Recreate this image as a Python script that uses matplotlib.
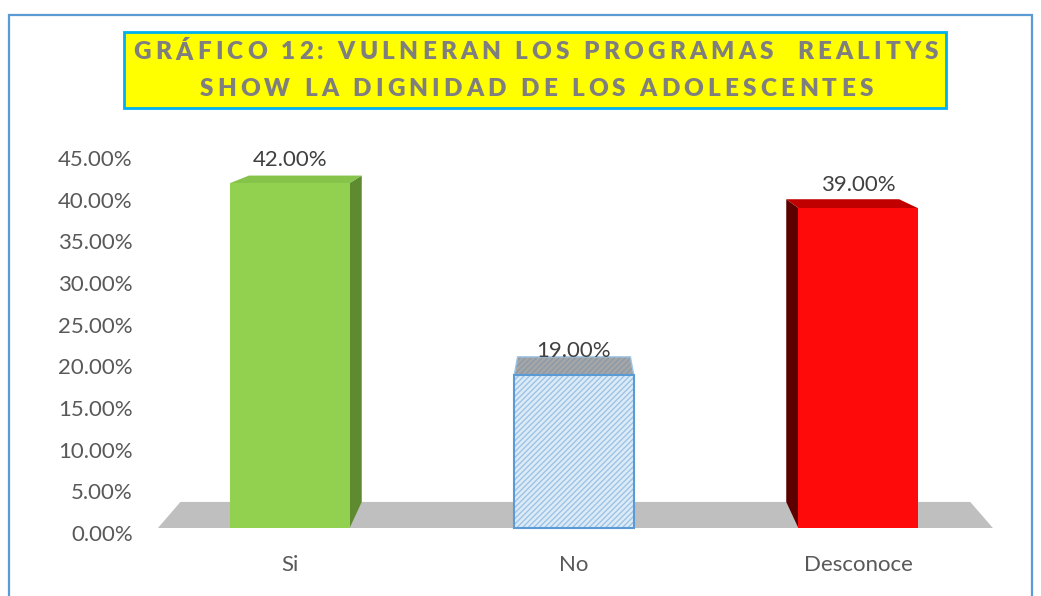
import matplotlib
matplotlib.use("Agg")
import matplotlib.pyplot as plt
from matplotlib.patches import Polygon, Rectangle
from matplotlib.font_manager import FontProperties

categories = ["Si", "No", "Desconoce"]
values = [42.0, 19.0, 39.0]
yticks = [0, 5, 10, 15, 20, 25, 30, 35, 40, 45]
title_lines = ["GRÁFICO 12: VULNERAN LOS PROGRAMAS  REALITYS",
               "SHOW LA DIGNIDAD DE LOS ADOLESCENTES"]

W, H = 1041, 596
plt.rcParams['font.family'] = ['Lato', 'DejaVu Sans']

fig = plt.figure(figsize=(W / 100, H / 100), dpi=100)

def fx(px):
    return px / W

def fy(py):
    return 1 - py / H

# outer chart border
fig.patches.append(Rectangle((fx(9), fy(640)), fx(1032) - fx(9), fy(15) - fy(640),
                             transform=fig.transFigure, fill=False,
                             edgecolor='#5B9BD5', lw=1.6))
# title box
fig.patches.append(Rectangle((fx(124), fy(108)), fx(946) - fx(124), fy(32) - fy(108),
                             transform=fig.transFigure, facecolor='#FFFF00',
                             edgecolor='#00B0F0', lw=2))

ax = fig.add_axes([fx(148), fy(533), fx(1000) - fx(148), fy(158) - fy(533)])
ax.set_xlim(0, 3)
ax.set_ylim(0, 45)
for s in ax.spines.values():
    s.set_visible(False)

# 3D-ish perspective: back points shrink toward a vanishing point
V = (1.5, 58.5)
k = 0.054
base = 0.6

def back(x, y):
    return (x + k * (V[0] - x), y + k * (V[1] - y))

# floor
fl = [(0.035, base), (2.975, base), back(2.975, base), back(0.035, base)]
ax.add_patch(Polygon(fl, closed=True, facecolor='#BFBFBF', edgecolor='none', zorder=1))

pos = [0.5, 1.5, 2.5]
width = 0.42
front_col = ['#92D050', '#DDEBF7', '#FF0A0A']
side_col = ['#5E8B2F', '#DDEBF7', '#5C0000']
top_col = ['#86C34A', '#A6A6A6', '#C00000']

for i, (p, v) in enumerate(zip(pos, values)):
    x0, x1 = p - width / 2, p + width / 2
    if back(x1, v)[0] > x1:
        side = [(x1, base), (x1, v), back(x1, v), back(x1, base)]
        ax.add_patch(Polygon(side, facecolor=side_col[i], edgecolor='none', zorder=2))
    if back(x0, v)[0] < x0:
        side = [(x0, base), (x0, v), back(x0, v), back(x0, base)]
        ax.add_patch(Polygon(side, facecolor=side_col[i], edgecolor='none', zorder=2))
    top = [(x0, v), (x1, v), back(x1, v), back(x0, v)]
    if categories[i] == "No":
        ax.add_patch(Polygon(top, facecolor=top_col[i], edgecolor='#8A9AAA', hatch='//////',
                             lw=0, zorder=2))
        ax.add_patch(Polygon(top, fill=False, edgecolor='#9DC3E6', lw=1, zorder=2))
    else:
        ax.add_patch(Polygon(top, facecolor=top_col[i], edgecolor='none', zorder=2))

bars = ax.bar(pos, [v - base for v in values], bottom=base, width=width,
              color=front_col, zorder=3, lw=0)
bars[1].set_hatch('//////')
bars[1].set_edgecolor('#9DC3E6')
ax.bar(pos[1], values[1] - base, bottom=base, width=width, fill=False,
       edgecolor='#5B9BD5', lw=1.5, zorder=4)

for p, v in zip(pos, values):
    ax.text(p, v + 2.8, f"{v:.2f}%", ha='center', va='center', fontsize=16,
            color='#404040', zorder=5)

ax.set_yticks(yticks)
ax.set_yticklabels([f"{t:.2f}%" for t in yticks])
ax.set_xticks(pos)
ax.set_xticklabels(categories)
ax.tick_params(axis='y', length=0, pad=11, labelsize=16, labelcolor='#595959')
ax.tick_params(axis='x', length=0, pad=16, labelsize=16, labelcolor='#595959')

# title with letter spacing, one character at a time
renderer = fig.canvas.get_renderer()
tprop = FontProperties(family=['Lato', 'DejaVu Sans'], weight='heavy', size=17.5)

def text_w(s):
    if not s:
        return 0
    w, h, d = renderer.get_text_width_height_descent(s, tprop, ismath=False)
    return w

line1 = title_lines[0]
spacing = (805 - text_w(line1)) / (len(line1) - 1)
cx = 536
for line, ycen in zip(title_lines, [52, 89]):
    total = text_w(line) + spacing * (len(line) - 1)
    start = cx - total / 2
    for j, ch in enumerate(line):
        if ch == ' ':
            continue
        xpx = start + text_w(line[:j]) + spacing * j
        fig.text(fx(xpx), fy(ycen), ch, fontproperties=tprop, color='#7F7F7F',
                 ha='left', va='center')

fig.savefig("out.png", dpi=100)
